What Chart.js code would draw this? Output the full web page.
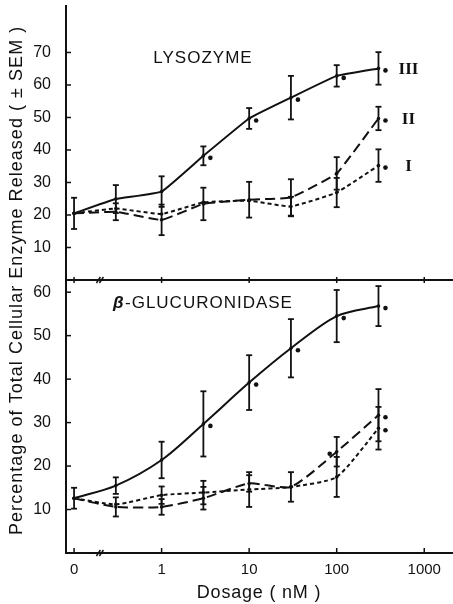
<!DOCTYPE html>
<html><head><meta charset="utf-8">
<script src="https://cdn.jsdelivr.net/npm/chart.js@4.4.1/dist/chart.umd.min.js"></script>
<style>html,body{margin:0;padding:0;background:#fff}canvas{display:block}</style>
</head><body>
<canvas id="c" width="453" height="604"></canvas>
<script>
/* enzyme release vs dosage, two stacked panels (lysozyme / beta-glucuronidase) */
const DOSE=[0.1,0.3,1,3,10,30,100,300];           // 0.1 stands for the "0" dose
const X_TICKS=[0.1,1,10,100,1000];
const X_LABELS=['0','1','10','100','1000'];
const TOP_TICKS=[10,20,30,40,50,60,70];
const BOT_TICKS=[10,20,30,40,50,60];

const LYS_III=[20.5,24.9,27.2,38.2,49.7,56.1,62.8,65.1];
const LYS_III_SEM=[4.8,4.3,4.7,2.9,3.2,6.7,3.3,5.0];
const LYS_III_SIG=[0,0,0,1,1,1,1,1];
const LYS_II=[20.5,21.0,18.5,23.4,24.7,25.4,32.8,49.7];
const LYS_II_SEM=[0,2.6,4.7,5.0,5.5,5.6,5.0,3.6];
const LYS_II_SIG=[0,0,0,0,0,0,0,1];
const LYS_I=[20.5,22.0,20.3,23.9,24.4,22.6,26.9,35.2];
const LYS_I_SEM=[0,0,0,0,0,3.0,4.5,5.0];
const LYS_I_SIG=[0,0,0,0,0,0,0,1];

const GLU_III=[12.6,15.5,21.4,29.7,39.2,47.1,54.5,56.8];
const GLU_III_SEM=[2.4,1.9,4.2,7.5,6.3,6.7,6.0,4.6];
const GLU_III_SIG=[0,0,0,1,1,1,1,1];
const GLU_II=[12.6,10.6,10.6,12.6,16.0,15.2,23.3,31.7];
const GLU_II_SEM=[0,2.2,1.8,2.6,1.9,3.4,3.4,6.0];
const GLU_II_SIG=[0,0,0,0,0,0,-1,1];
const GLU_I=[12.6,11.2,13.3,13.9,14.6,15.2,17.5,28.7];
const GLU_I_SEM=[0,0,2.0,2.7,4.0,0,4.6,4.9];
const GLU_I_SIG=[0,0,0,0,0,0,0,1];

const INK='#111', FONT='"Liberation Sans", Arial, sans-serif';
const SOLID=[], LONG=[10,5], SHORT=[4,3];
const Y_TITLE='Percentage of Total Cellular Enzyme Released ( \u00B1 SEM )';

function series(vals,sem,sig,axis,dash,tag,tension){
  return {data:DOSE.map((d,i)=>({x:d,y:vals[i]})),sem,sig,tag,yAxisID:axis,
    borderColor:INK,borderWidth:2,borderDash:dash,tension,
    pointRadius:1.8,pointBackgroundColor:INK,pointBorderWidth:0};
}

function seg(ctx,x1,y1,x2,y2){ctx.beginPath();ctx.moveTo(x1,y1);ctx.lineTo(x2,y2);ctx.stroke();}

const deco={id:'deco',
  afterDatasetsDraw(chart){
    const ctx=chart.ctx, xs=chart.scales.x, a=chart.chartArea;
    const yt=chart.scales.yTop, yb=chart.scales.yBot;
    ctx.save(); ctx.strokeStyle=INK; ctx.fillStyle=INK; ctx.setLineDash([]);
    chart.data.datasets.forEach((ds,di)=>{
      const meta=chart.getDatasetMeta(di), ys=chart.scales[ds.yAxisID];
      meta.data.forEach((pt,i)=>{
        const e=ds.sem[i];
        if(e){
          const y1=ys.getPixelForValue(ds.data[i].y+e), y2=ys.getPixelForValue(ds.data[i].y-e);
          ctx.lineWidth=1.8;
          seg(ctx,pt.x,y1,pt.x,y2); seg(ctx,pt.x-3,y1,pt.x+3,y1); seg(ctx,pt.x-3,y2,pt.x+3,y2);
        }
        if(ds.sig[i]){ctx.beginPath();ctx.arc(pt.x+7*ds.sig[i],pt.y+2,2.3,0,Math.PI*2);ctx.fill();}
      });
      if(ds.tag){
        const last=meta.data[meta.data.length-1];
        ctx.font='bold 17px "Liberation Serif", serif'; ctx.textAlign='center'; ctx.textBaseline='middle';
        ctx.fillText(ds.tag,last.x+30,last.y+1);
      }
    });
    // divider between panels
    const yd=yt.bottom;
    ctx.lineWidth=2; seg(ctx,a.left,yd,a.right,yd);
    // tick marks
    ctx.lineWidth=1.5;
    X_TICKS.forEach(v=>{const px=xs.getPixelForValue(v);
      seg(ctx,px,a.bottom,px,a.bottom-5); seg(ctx,px,yd-3,px,yd+3);});
    TOP_TICKS.forEach(v=>{const py=yt.getPixelForValue(v); seg(ctx,a.left,py,a.left+5,py);});
    BOT_TICKS.forEach(v=>{const py=yb.getPixelForValue(v); seg(ctx,a.left,py,a.left+5,py);});
    // axis breaks
    const bx=xs.getPixelForValue(0.2);
    [yd,a.bottom].forEach(y=>{seg(ctx,bx-4,y+3,bx,y-3); seg(ctx,bx-1,y+3,bx+3,y-3);});
    // panel titles
    ctx.textBaseline='middle'; ctx.textAlign='center';
    ctx.font='17px '+FONT; ctx.letterSpacing='1px';
    ctx.fillText('LYSOZYME',203,58);
    ctx.textAlign='left';
    ctx.font='italic bold 17px '+FONT; ctx.letterSpacing='0px';
    ctx.fillText('\u03B2',113,303);
    ctx.font='17px '+FONT; ctx.letterSpacing='1px';
    ctx.fillText('-GLUCURONIDASE',125,303);
    // axis titles
    ctx.textAlign='center';
    ctx.font='18px '+FONT; ctx.letterSpacing='0.8px';
    ctx.fillText('Dosage ( nM )',259,593);
    // y title: stretched so it runs from y 535 up to about y 23
    ctx.textAlign='left'; ctx.font='18px '+FONT; ctx.letterSpacing='0px';
    const natural=ctx.measureText(Y_TITLE).width;
    const sp=Math.max(0,(508-natural)/(Y_TITLE.length-1));
    ctx.letterSpacing=sp.toFixed(2)+'px';
    ctx.translate(17,535); ctx.rotate(-Math.PI/2);
    ctx.fillText(Y_TITLE,0,0);
    ctx.letterSpacing='0px';
    ctx.restore();
  }};

const yAxis=(min,max,ticks,w)=>({type:'linear',position:'left',stack:'panels',stackWeight:w,min,max,
  afterBuildTicks:s=>{s.ticks=ticks.map(v=>({value:v}));},
  afterFit:s=>{s.width=66;s.paddingTop=0;s.paddingBottom=0;},
  grid:{display:false},border:{display:true,color:INK,width:2},
  ticks:{color:INK,font:{family:FONT,size:16},padding:7}});

new Chart(document.getElementById('c'),{
  type:'line',
  data:{datasets:[
    series(LYS_III,LYS_III_SEM,LYS_III_SIG,'yTop',SOLID,'III',0.1),
    series(LYS_II,LYS_II_SEM,LYS_II_SIG,'yTop',LONG,'II',0.1),
    series(LYS_I,LYS_I_SEM,LYS_I_SIG,'yTop',SHORT,'I',0.1),
    series(GLU_III,GLU_III_SEM,GLU_III_SIG,'yBot',SOLID,'',0.3),
    series(GLU_II,GLU_II_SEM,GLU_II_SIG,'yBot',LONG,'',0.2),
    series(GLU_I,GLU_I_SEM,GLU_I_SIG,'yBot',SHORT,'',0.2)
  ]},
  options:{responsive:false,animation:false,devicePixelRatio:1,
    layout:{autoPadding:false,padding:{top:6,right:0,left:0,bottom:0}},
    plugins:{legend:{display:false},tooltip:{enabled:false}},
    scales:{
      x:{type:'logarithmic',min:0.0809,max:2130,
        afterBuildTicks:s=>{s.ticks=X_TICKS.map(v=>({value:v}));},
        afterFit:s=>{s.height=51;s.paddingLeft=0;s.paddingRight=0;},
        grid:{display:false},border:{display:true,color:INK,width:2},
        ticks:{color:INK,font:{family:FONT,size:15},padding:0,maxRotation:0,autoSkip:false,
          callback:v=>X_LABELS[X_TICKS.indexOf(v)]}},
      // stacked scales are laid out bottom-first
      yBot:yAxis(0,62.8,BOT_TICKS,273),
      yTop:yAxis(0,84.3,TOP_TICKS,274)
    }},
  plugins:[deco]
});
</script>
</body></html>
